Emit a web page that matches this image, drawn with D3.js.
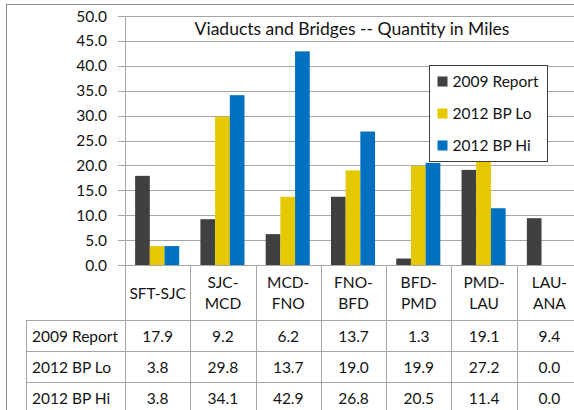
<!DOCTYPE html>
<html>
<head>
<meta charset="utf-8">
<script src="https://cdn.jsdelivr.net/npm/d3@7"></script>
<style>
  body { margin: 0; background: #fff; }
  svg text { font-family: Lato, "Open Sans", sans-serif; fill: #141414; }
</style>
</head>
<body>
<div id="chart"></div>
<script>
// chart data
var categories = [["SFT-SJC"], ["SJC-", "MCD"], ["MCD-", "FNO"], ["FNO-", "BFD"], ["BFD-", "PMD"], ["PMD-", "LAU"], ["LAU-", "ANA"]];
var seriesNames = ["2009 Report", "2012 BP Lo", "2012 BP Hi"];
var report2009 = [17.9, 9.2, 6.2, 13.7, 1.3, 19.1, 9.4];
var bpLo2012 = [3.8, 29.8, 13.7, 19.0, 19.9, 27.2, 0.0];
var bpHi2012 = [3.8, 34.1, 42.9, 26.8, 20.5, 11.4, 0.0];
var yTicks = [0, 5, 10, 15, 20, 25, 30, 35, 40, 45, 50];
var colors = ["#404040", "#e6c800", "#0070c0"];

var series = [report2009, bpLo2012, bpHi2012];
var keys = categories.map(function(c){ return c.join(""); });

var width = 574, height = 410;
var plot = {left: 125, right: 582, top: 16, bottom: 265};
var gridColor = "#a6a6a6";
var fontSize = "15.5px";

var svg = d3.select("#chart").append("svg")
    .attr("width", width)
    .attr("height", height);

// outer border of the chart area
svg.append("rect")
    .attr("x", 6.5).attr("y", 4.5)
    .attr("width", 600).attr("height", 420)
    .attr("fill", "none")
    .attr("stroke", "#8c8c8c");

var y = d3.scaleLinear().domain([0, 50]).range([plot.bottom, plot.top]);

var x0 = d3.scaleBand().domain(keys).range([plot.left, plot.right]);

var x1 = d3.scaleBand().domain(seriesNames)
    .range([x0.bandwidth() * 0.155, x0.bandwidth() * 0.83]);

// gridlines + ticks
svg.append("g").selectAll("line")
    .data(yTicks)
    .enter().append("line")
    .attr("x1", plot.left - 7)
    .attr("x2", width)
    .attr("y1", function(d){ return Math.round(y(d)) + 0.5; })
    .attr("y2", function(d){ return Math.round(y(d)) + 0.5; })
    .attr("stroke", gridColor);

svg.append("g").selectAll("text")
    .data(yTicks)
    .enter().append("text")
    .attr("x", 107)
    .attr("y", function(d){ return y(d) + 5.5; })
    .attr("text-anchor", "end")
    .style("font-size", fontSize)
    .text(function(d){ return d.toFixed(1); });

// title
svg.append("text")
    .attr("x", 352)
    .attr("y", 34.5)
    .attr("text-anchor", "middle")
    .style("font-size", "17.5px")
    .text("Viaducts and Bridges -- Quantity in Miles");

// bars
var groups = svg.append("g").selectAll("g")
    .data(keys)
    .enter().append("g")
    .attr("transform", function(d){ return "translate(" + x0(d) + ",0)"; });

groups.selectAll("rect")
    .data(function(d, i){
        return seriesNames.map(function(s, j){ return {name: s, value: series[j][i], color: colors[j]}; });
    })
    .enter().append("rect")
    .attr("x", function(d){ return x1(d.name); })
    .attr("width", x1.bandwidth())
    .attr("y", function(d){ return y(d.value); })
    .attr("height", function(d){ return y(0) - y(d.value); })
    .attr("fill", function(d){ return d.color; });

// axis lines and table grid
var tableRows = [320, 351, 382, 413];
var tableLeft = 26.5;

svg.append("line")
    .attr("x1", plot.left + 0.5).attr("x2", plot.left + 0.5)
    .attr("y1", plot.top).attr("y2", height)
    .attr("stroke", gridColor);

svg.append("g").selectAll("line")
    .data(keys.slice(1))
    .enter().append("line")
    .attr("x1", function(d){ return Math.round(x0(d)) + 0.5; })
    .attr("x2", function(d){ return Math.round(x0(d)) + 0.5; })
    .attr("y1", plot.bottom)
    .attr("y2", height)
    .attr("stroke", gridColor);

svg.append("g").selectAll("line")
    .data(tableRows)
    .enter().append("line")
    .attr("x1", tableLeft)
    .attr("x2", width)
    .attr("y1", function(d){ return d + 0.5; })
    .attr("y2", function(d){ return d + 0.5; })
    .attr("stroke", gridColor);

svg.append("line")
    .attr("x1", tableLeft).attr("x2", tableLeft)
    .attr("y1", tableRows[0]).attr("y2", height)
    .attr("stroke", gridColor);

// category labels
var catText = svg.append("g").selectAll("text")
    .data(categories)
    .enter().append("text")
    .attr("text-anchor", "middle")
    .style("font-size", fontSize)
    .attr("transform", function(d, i){
        return "translate(" + (x0(keys[i]) + x0.bandwidth() / 2) + ",0)";
    });

catText.selectAll("tspan")
    .data(function(d){ return d; })
    .enter().append("tspan")
    .attr("x", 0)
    .attr("y", function(d, i, nodes){
        return nodes.length === 1 ? 298.5 : 287.5 + i * 21;
    })
    .text(function(d){ return d; });

// table rows
seriesNames.forEach(function(name, j){
    var cy = (tableRows[j] + tableRows[j + 1]) / 2 + 6;
    svg.append("text")
        .attr("x", 32)
        .attr("y", cy)
        .style("font-size", fontSize)
        .text(name);
    svg.append("g").selectAll("text")
        .data(series[j])
        .enter().append("text")
        .attr("x", function(d, i){ return x0(keys[i]) + x0.bandwidth() / 2; })
        .attr("y", cy)
        .attr("text-anchor", "middle")
        .style("font-size", fontSize)
        .text(function(d){ return d.toFixed(1); });
});

// legend
var legend = svg.append("g").attr("transform", "translate(429.5,65.5)");
legend.append("rect")
    .attr("width", 118).attr("height", 96)
    .attr("fill", "#fff")
    .attr("stroke", "#404040");

var items = legend.selectAll("g")
    .data(seriesNames)
    .enter().append("g")
    .attr("transform", function(d, i){ return "translate(0," + (16 + i * 32) + ")"; });

items.append("rect")
    .attr("x", 8).attr("y", -5)
    .attr("width", 10).attr("height", 10)
    .attr("fill", function(d, i){ return colors[i]; });

items.append("text")
    .attr("x", 23)
    .attr("y", 5.5)
    .style("font-size", fontSize)
    .text(function(d){ return d; });
</script>
</body>
</html>
